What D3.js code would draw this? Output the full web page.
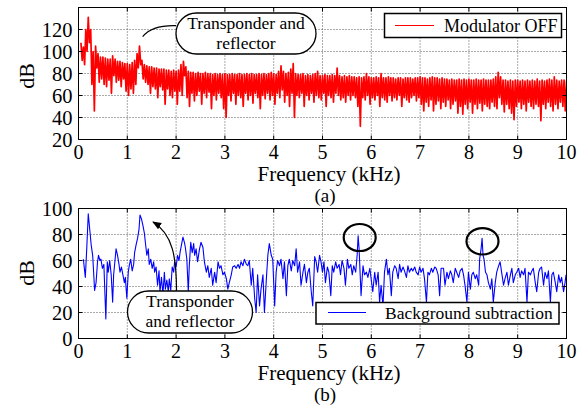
<!DOCTYPE html>
<html><head><meta charset="utf-8">
<script src="https://cdn.jsdelivr.net/npm/d3@7/dist/d3.min.js"></script>
<style>
body{margin:0;background:#fff}
svg{display:block}
text{font-family:"Liberation Serif","Times New Roman",serif;fill:#000}
</style>
</head><body>
<svg id="c" width="580" height="406"></svg>
<script>
// ---------- data ----------
const xTickValues = [0,1,2,3,4,5,6,7,8,9,10];
const topYTickValues = [20,40,60,80,100,120];
const botYTickValues = [0,20,40,60,80,100];

// Panel (a): spectrum "Modulator OFF", bins every 0.05 kHz from 0.05 to 10.00
const redStartKHz = 0.05, redBinKHz = 0.05;
const redPeak = [
108,104,120,131,120,100,105,98,95,95,
94,93,93,96,93,91,91,90,89,89,
88,90,92,98,105,92,88,87,86,86,
85,85,84,84,84,83,83,82,83,82,
83,88,91,86,82,81,81,80,81,80,
80,81,80,80,79,80,79,80,79,80,
79,79,80,79,79,80,79,79,80,79,
80,79,79,80,79,80,79,80,81,80,
79,82,87,82,80,81,84,89,80,79,
79,80,78,79,78,79,80,82,78,78,
79,78,78,79,78,85,78,77,78,77,
78,77,77,76,77,76,77,80,77,76,
76,77,76,80,76,76,77,76,76,75,
76,76,75,76,76,76,75,76,76,77,
76,76,75,76,77,76,76,75,76,75,
75,74,75,74,74,75,74,75,74,75,
74,74,75,74,74,75,74,74,74,75,
77,81,77,74,74,73,74,73,74,74,
73,74,73,74,73,74,73,75,73,74,
73,74,75,74,77,74,73,74,74,73];
const redTrough = [
92,88,100,108,70,46,85,72,75,70,
68,74,62,78,72,74,68,75,64,60,
66,62,70,85,88,75,72,70,62,68,
66,58,68,65,52,66,60,58,64,52,
64,60,78,58,50,62,55,60,64,52,
62,58,63,48,60,56,62,58,48,40,
60,55,62,52,60,58,50,62,56,60,
53,62,58,48,60,57,62,56,60,52,
62,58,65,54,60,50,62,40,60,58,
62,50,60,56,62,54,60,58,56,62,
50,60,58,54,62,60,56,58,54,60,
56,60,58,50,32,58,56,60,52,58,
56,60,50,58,56,54,60,55,58,56,
60,50,58,56,54,58,60,55,58,52,
46,54,50,56,46,52,55,48,54,50,
56,48,52,55,44,50,43,52,48,54,
44,52,48,53,46,52,50,48,54,50,
48,58,52,45,52,48,44,38,50,54,
48,52,46,54,50,48,52,50,37,52,
48,54,50,46,52,48,54,50,46,54];

// Panel (b): "Background subtraction"
const blueFreq = [
0.10,0.14,0.17,0.20,0.23,0.26,0.29,0.31,0.33,0.36,0.39,0.41,0.44,0.46,0.49,0.52,0.56,0.59,0.61,0.64,
0.67,0.70,0.72,0.75,0.77,0.80,0.83,0.85,0.88,0.91,0.94,0.96,0.99,1.02,1.04,1.07,1.10,1.13,1.15,1.18,
1.21,1.24,1.26,1.29,1.32,1.35,1.37,1.40,1.43,1.45,1.48,1.51,1.54,1.56,1.59,1.62,1.65,1.67,1.70,1.73,
1.76,1.78,1.81,1.84,1.86,1.89,1.92,1.95,1.97,2.00,2.03,2.06,2.08,2.11,2.14,2.17,2.19,2.22,2.25,2.27,
2.30,2.33,2.36,2.38,2.41,2.44,
2.48,2.51,2.55,2.58,2.62,2.65,2.68,2.72,2.75,2.79,2.82,2.86,2.89,2.92,2.96,2.99,3.03,3.06,3.09,3.13,
3.16,3.20,3.23,3.27,3.30,3.33,3.37,3.40,3.44,3.47,3.50,3.54,3.57,3.61,3.64,3.67,3.71,3.74,3.78,3.81,
3.85,3.88,3.91,3.95,3.98,4.02,4.05,4.08,4.12,4.15,4.19,4.22,4.26,4.29,4.32,4.36,4.39,4.43,4.46,4.49,
4.53,4.56,4.60,4.63,4.67,4.70,4.73,4.77,4.80,4.84,4.87,4.90,4.94,4.97,
5.00,5.03,5.06,5.10,5.13,5.17,5.20,5.23,5.27,5.30,5.34,5.37,5.40,5.44,5.47,5.51,5.54,5.58,5.61,5.64,
5.68,5.71,5.73,5.75,5.77,5.79,5.83,5.86,5.90,5.93,5.97,6.00,6.03,6.07,6.10,6.14,6.17,6.20,6.24,6.27,
6.31,6.34,6.37,6.41,6.44,6.48,6.51,6.55,6.58,6.61,6.65,6.68,6.72,6.75,6.78,6.82,6.85,6.89,6.92,6.96,
6.99,7.02,7.06,7.09,7.13,7.16,7.19,7.23,7.26,7.30,7.33,7.37,7.40,7.43,
7.48,7.51,7.55,7.58,7.62,7.65,7.68,7.72,7.75,7.79,7.82,7.86,7.89,7.92,7.96,7.99,8.03,8.06,8.09,8.13,
8.16,8.20,8.22,8.25,8.27,8.29,8.31,8.34,8.37,8.40,8.44,8.47,8.50,8.54,8.57,8.61,8.64,8.67,8.71,8.74,
8.78,8.81,8.85,8.88,8.91,8.95,8.98,9.02,9.05,9.08,9.12,9.15,9.19,9.22,9.26,9.29,9.32,9.36,9.39,9.43,
9.46,9.49,9.53,9.56,9.60,9.63,9.67,9.70,9.73,9.77,9.80,9.84,9.87,9.90,9.94,9.97,9.99];
const blueDb = [
61,47,70,96,84,72,64,51,37,43,59,64,60,61,54,57,15,59,51,60,
49,28,49,61,69,64,57,51,55,49,43,47,31,51,56,61,52,57,66,72,
77,84,95,92,87,81,74,64,69,57,61,54,59,51,55,41,52,36,47,34,
51,38,45,36,46,37,55,51,59,55,64,60,66,72,78,74,70,61,36,56,
74,66,73,64,69,59,
69,74,70,59,51,56,47,54,41,51,43,59,54,56,49,51,46,38,43,49,
55,56,54,57,54,59,56,61,57,56,60,41,54,31,20,49,25,38,49,20,
46,64,73,64,61,25,51,60,56,61,46,59,33,56,61,52,60,56,69,51,
59,41,51,57,43,51,54,36,25,63,59,51,64,59,
51,59,43,55,51,33,56,51,59,54,57,49,60,54,41,61,54,57,49,56,
51,64,79,69,51,33,56,49,51,47,54,45,36,51,41,51,28,41,25,51,
61,49,54,33,51,56,54,46,57,51,55,52,47,56,51,54,52,55,51,49,
55,51,54,46,28,51,49,54,51,55,54,49,33,54,
54,41,51,46,52,49,43,54,51,47,52,54,49,41,28,51,38,49,51,46,
49,41,61,69,77,64,61,51,49,43,38,46,28,43,51,56,59,51,41,46,
51,41,49,54,43,49,51,54,47,52,49,54,28,51,49,52,54,43,36,51,
54,55,41,51,46,52,28,49,51,43,36,49,43,47,36,43,49];

// ---------- layout ----------
const svg = d3.select("#c");
const X0 = 78.5, X1 = 566.5;
const x = d3.scaleLinear().domain([0,10]).range([X0, X1]);
const yTop = d3.scaleLinear().domain([20,140]).range([139.5, 7.5]);
const yBot = d3.scaleLinear().domain([0,100]).range([338.5, 208.5]);

const defs = svg.append("defs");
function clip(id, y){
  defs.append("clipPath").attr("id", id).append("rect")
    .attr("x", X0).attr("y", y.range()[1]).attr("width", X1-X0).attr("height", y.range()[0]-y.range()[1]);
}
clip("clipTop", yTop); clip("clipBot", yBot);
defs.append("marker").attr("id","arrow").attr("viewBox","0 0 10 10").attr("refX",9).attr("refY",5)
  .attr("markerWidth",9).attr("markerHeight",9).attr("markerUnits","userSpaceOnUse").attr("orient","auto")
  .append("path").attr("d","M0,1 L10,5 L0,9 Z").attr("fill","#000");

function grid(y, ticks){
  const g = svg.append("g");
  const [yb, yt] = y.range();
  g.selectAll("line.v").data(xTickValues.filter(v=>v>0 && v<10)).join("line")
    .attr("x1", d=>x(d)).attr("x2", d=>x(d)).attr("y1", yt).attr("y2", yb)
    .attr("stroke","#555").attr("stroke-width",1).attr("stroke-dasharray","1,2");
  g.selectAll("line.h").data(ticks.filter(v=>v>y.domain()[0] && v<y.domain()[1])).join("line")
    .attr("x1", X0).attr("x2", X1).attr("y1", d=>y(d)).attr("y2", d=>y(d))
    .attr("stroke","#555").attr("stroke-width",1).attr("stroke-dasharray","1,2");
}
function frame(y, ticks, xLabelY, panelLabel, panelY, dbY){
  const [yb, yt] = y.range();
  const g = svg.append("g");
  xTickValues.forEach(v=>{
    g.append("line").attr("x1",x(v)).attr("x2",x(v)).attr("y1",yb).attr("y2",yb-4).attr("stroke","#000");
    g.append("line").attr("x1",x(v)).attr("x2",x(v)).attr("y1",yt).attr("y2",yt+4).attr("stroke","#000");
  });
  ticks.forEach(v=>{
    g.append("line").attr("x1",X0).attr("x2",X0+4).attr("y1",y(v)).attr("y2",y(v)).attr("stroke","#000");
    g.append("line").attr("x1",X1).attr("x2",X1-4).attr("y1",y(v)).attr("y2",y(v)).attr("stroke","#000");
  });
  g.append("rect").attr("x",X0).attr("y",yt).attr("width",X1-X0).attr("height",yb-yt)
    .attr("fill","none").attr("stroke","#000").attr("stroke-width",1);
  g.selectAll("text.xt").data(xTickValues).join("text")
    .attr("x", d=>x(d)).attr("y", yb+19.5).attr("text-anchor","middle").attr("font-size",20).text(d=>d);
  g.selectAll("text.yt").data(ticks).join("text")
    .attr("x", X0-6).attr("y", d=>y(d)+7).attr("text-anchor","end").attr("font-size",20.5).text(d=>d);
  g.append("text").attr("x",329).attr("y",xLabelY).attr("text-anchor","middle").attr("font-size",21).text("Frequency (kHz)");
  g.append("text").attr("x",325).attr("y",panelY).attr("text-anchor","middle").attr("font-size",19).text(panelLabel);
  g.append("text").attr("transform",`translate(34,${dbY}) rotate(-90)`).attr("text-anchor","middle").attr("font-size",22).text("dB");
}

// ---------- panel (a) ----------
grid(yTop, topYTickValues);
const redPts = [];
redPeak.forEach((v,i)=>{
  const f = redStartKHz + i*redBinKHz;
  redPts.push([f, v]);
  redPts.push([f + redBinKHz/2, redTrough[i]]);
});
svg.append("path").attr("clip-path","url(#clipTop)")
  .attr("d", d3.line().x(d=>x(d[0])).y(d=>yTop(d[1]))(redPts))
  .attr("fill","none").attr("stroke","#ff0000").attr("stroke-width",1.7).attr("stroke-linejoin","round");
frame(yTop, topYTickValues, 180.5, "(a)", 202, 76);

// legend (a)
svg.append("rect").attr("x",384.5).attr("y",13.5).attr("width",177).attr("height",24)
  .attr("fill","#fff").attr("stroke","#000").attr("stroke-width",1.5);
svg.append("line").attr("x1",395).attr("x2",434).attr("y1",25.5).attr("y2",25.5).attr("stroke","#ff0000").attr("stroke-width",1.2);
svg.append("text").attr("x",444).attr("y",31.5).attr("font-size",18).text("Modulator OFF");

// callout (a)
svg.append("path").attr("d","M142.7,36.7 Q152,25 176,25.7").attr("fill","none").attr("stroke","#000").attr("stroke-width",1.2);
svg.append("rect").attr("x",176).attr("y",13).attr("width",140).attr("height",41).attr("rx",20.5).attr("ry",20.5)
  .attr("fill","#fff").attr("stroke","#000").attr("stroke-width",1.3);
svg.append("text").attr("x",246).attr("y",29).attr("text-anchor","middle").attr("font-size",17.5).text("Transponder and");
svg.append("text").attr("x",246).attr("y",49).attr("text-anchor","middle").attr("font-size",17.5).text("reflector");

// ---------- panel (b) ----------
grid(yBot, botYTickValues);
svg.append("path").attr("clip-path","url(#clipBot)")
  .attr("d", d3.line().x((d,i)=>x(blueFreq[i])).y(d=>yBot(d))(blueDb))
  .attr("fill","none").attr("stroke","#0000ff").attr("stroke-width",1.1).attr("stroke-linejoin","round");
frame(yBot, botYTickValues, 379.5, "(b)", 401, 273);

// legend (b)
svg.append("rect").attr("x",316).attr("y",302.5).attr("width",243).attr("height",21.5)
  .attr("fill","#fff").attr("stroke","#000").attr("stroke-width",1.5);
svg.append("line").attr("x1",328).attr("x2",366).attr("y1",312.5).attr("y2",312.5).attr("stroke","#0000ff").attr("stroke-width",1.1);
svg.append("text").attr("x",385).attr("y",319).attr("font-size",17.5).text("Background subtraction");

// callout (b)
svg.append("rect").attr("x",127.5).attr("y",291).attr("width",125).attr("height",42).attr("rx",21).attr("ry",21)
  .attr("fill","#fff").attr("stroke","#000").attr("stroke-width",1.3);
svg.append("path").attr("d","M176.5,291 C176.5,258 173,234 153,222").attr("fill","none").attr("stroke","#000")
  .attr("stroke-width",1.2).attr("marker-end","url(#arrow)");
svg.append("text").attr("x",190).attr("y",307).attr("text-anchor","middle").attr("font-size",17.5).text("Transponder");
svg.append("text").attr("x",190).attr("y",327).attr("text-anchor","middle").attr("font-size",17.5).text("and reflector");

// circled peaks
svg.append("ellipse").attr("cx",359.7).attr("cy",237.5).attr("rx",16).attr("ry",13.5)
  .attr("fill","none").attr("stroke","#000").attr("stroke-width",2.2);
svg.append("ellipse").attr("cx",482.5).attr("cy",241.3).attr("rx",16).attr("ry",13.2)
  .attr("fill","none").attr("stroke","#000").attr("stroke-width",2.2);
</script>
</body></html>
